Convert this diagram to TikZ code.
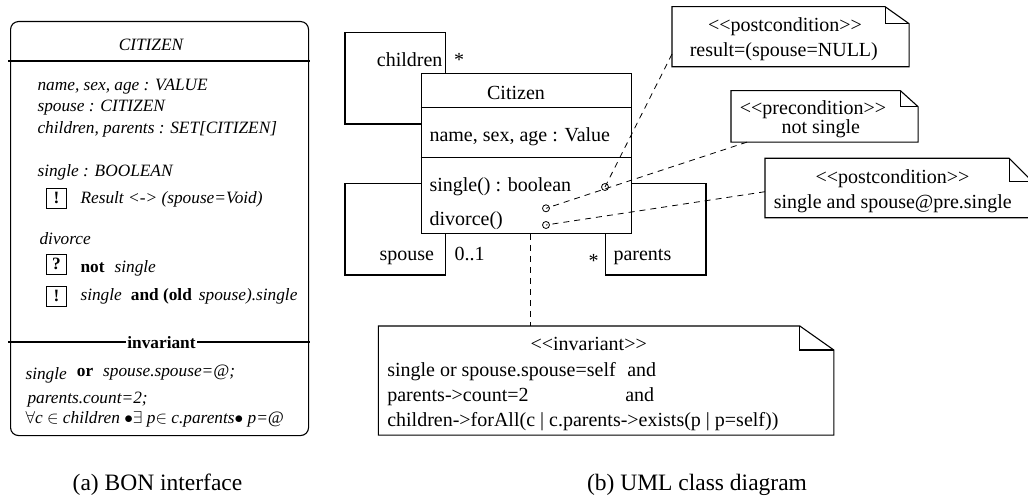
\documentclass[tikz,border=0pt]{standalone}
\usepackage{fontspec}
\setmainfont{Liberation Serif}
\usetikzlibrary{
    calc,
    positioning
}
\tikzset{
  every path/.style={
    black,
    line width=1.1pt
  },
  every node/.style={
    inner sep=0pt
  },
  uml/.style={font=\fontsize{20}{24}\selectfont},
  bon/.style={font=\fontsize{17.3}{21}\selectfont\itshape},
  caption/.style={font=\fontsize{23.5}{28}\selectfont, anchor=base},
  txt/.style={anchor=base west},
  ctr/.style={anchor=base},
  notebox/.style={anchor=north west},
  knob/.style={circle, draw, minimum size=7pt, line width=0.8pt},
  flag/.style={draw, minimum size=20pt, line width=0.9pt,
    font=\fontsize{17.3}{21}\selectfont\bfseries},
  dashline/.style={dash pattern=on 6pt off 5pt, line width=0.8pt}
}
\newcommand\notefold[3]{%
  \draw ($(#1.north east)+(-#2,0)$) -- (#1.north west) -- (#1.south west)
    -- (#1.south east) -- ($(#1.north east)+(0,#3)$) -- cycle;
  \draw ($(#1.north east)+(-#2,0)$) |- ($(#1.north east)+(0,#3)$);}
\newcommand\stereo[1]{<{}<#1>{}>}

\begin{document}
\begin{tikzpicture}[x=1pt, y=-1pt]
\useasboundingbox (0,0) rectangle (1028,497);
\node[draw, rounded corners=8pt, minimum width=298pt, minimum height=414pt, anchor=north west] (bon) at (10,21) {};
\draw (8,61) -- (310,61);
\draw (8,342) -- (310,342);
\node[bon, ctr] (bontitle) at (151,50.7) {CITIZEN};
\node[bon, txt] (attr1) at (37,90.7) {name, sex, age : VALUE};
\node[bon, txt] (attr2) at (37,111.7) {spouse : CITIZEN};
\node[bon, txt] (attr3) at (37,133.3) {children, parents : SET[CITIZEN]};
\node[bon, txt] (feat1) at (37,176.7) {single : BOOLEAN};
\node[flag] (ens1) at (56.5,198) {!};
\node[bon, txt] (ens1txt) at (80,203.3) {Result <-> (spouse=Void)};
\node[bon, txt] (feat2) at (39,244) {divorce};
\node[flag] (req2) at (56.5,264) {?};
\node[bon, txt] (req2txt) at (80,272.7) {\textup{\textbf{not}}\hspace{10pt}single};
\node[flag] (ens2) at (56.5,296) {!};
\node[bon, txt] (ens2txt) at (80,300.7) {single\hspace{9pt}\textup{\textbf{and (old}}\hspace{7pt}spouse).single};
\node[bon, ctr, fill=white, inner xsep=1pt, inner ysep=1pt] (invlabel) at (161.5,348.3) {\textup{\textbf{invariant}}};
\node[bon, txt] (inv1) at (25,376.3) {\raisebox{-3pt}{single}\hspace{10pt}\textup{\textbf{or}}\hspace{10pt}spouse.spouse=@;};
\node[bon, txt] (inv2) at (27,403.3) {parents.count=2;};
\node[bon, txt] (inv3) at (25,423.3) {$\forall$c $\in$ children $\bullet\exists$ p$\in$ c.parents$\bullet$ p=@};
\node[caption] (capa) at (157.5,490) {(a) BON interface};

\node[draw, minimum width=210pt, minimum height=159.4pt, anchor=north west] (cls) at (420.7,73.3) {};
\draw ($(cls.north west)+(0,34.4)$) -- ($(cls.north east)+(0,34.4)$);
\draw ($(cls.north west)+(0,84.4)$) -- ($(cls.north east)+(0,84.4)$);
\draw ($(cls.north west)+(0,50.7)$) -| (345,32.3) -| ($(cls.north west)+(25,0)$);
\draw ($(cls.north west)+(0,110)$) -| (345,275) -| ($(cls.south west)+(25,0)$);
\draw ($(cls.north east)+(0,110)$) -| (706,275) -| ($(cls.south west)+(185,0)$);
\node[uml, ctr] (clsname) at (516,99.3) {Citizen};
\node[uml, txt] (clsattr) at (429,141.7) {name, sex, age : Value};
\node[uml, txt] (op1) at (429,192) {single() : boolean};
\node[uml, txt] (op2) at (429,225.7) {divorce()};
\node[uml, anchor=base east] (rchildren) at (443,66.3) {children};
\node[uml, ctr] (mchildren) at (459,66.3) {*};
\node[uml, txt] (rspouse) at (379,260) {spouse};
\node[uml, txt] (mspouse) at (454,260) {0..1};
\node[uml, txt] (rparents) at (613,260) {parents};
\node[uml, ctr] (mparents) at (593.7,267) {*};
\node[knob] (k1) at (605,187) {};
\node[knob] (k2) at (546,208.3) {};
\node[knob] (k3) at (546,225) {};

\node[notebox, minimum width=236pt, minimum height=59pt] (posta) at (672,6.7) {};
\notefold{posta}{24}{17}
\node[uml, ctr] (postahead) at (785,31.7) {\stereo{postcondition}};
\node[uml, ctr] (postabody) at (783.8,57) {result=(spouse=NULL)};
\node[notebox, minimum width=186pt, minimum height=50.3pt] (pre) at (731,90.7) {};
\notefold{pre}{17.7}{16}
\node[uml, ctr] (prehead) at (813,115) {\stereo{precondition}};
\node[uml, ctr] (prebody) at (820.8,133.5) {not single};
\node[notebox, minimum width=266pt, minimum height=58.4pt] (postb) at (765,158.3) {};
\notefold{postb}{23}{23}
\node[uml, ctr] (postbhead) at (892.5,184) {\stereo{postcondition}};
\node[uml, txt] (postbbody) at (773.3,209) {single and spouse@pre.single};
\node[notebox, minimum width=454.4pt, minimum height=108pt] (inv) at (378.3,326) {};
\notefold{inv}{34}{24}
\node[uml, ctr] (invhead) at (588.7,350.7) {\stereo{invariant}};
\node[uml, txt] (invl1) at (386.7,376.7) {\makebox[240pt][l]{single or spouse.spouse=self}and};
\node[uml, txt] (invl2) at (386.7,401.7) {\makebox[238pt][l]{parents->count=2}and};
\node[uml, txt] (invl3) at (386.7,426.7) {children->forAll(c | c.parents->exists(p | p=self))};

\draw[dashline] ($(posta.south west)+(0,-12.7)$) -- (k1.center);
\draw[dashline] ($(pre.south west)+(16,0)$) -- (k2.center);
\draw[dashline] ($(postb.north west)+(0,33.4)$) -- (k3.center);
\draw[dashline] ($(cls.south west)+(109.3,0)$) -- ($(inv.north west)+(151.7,0)$);
\node[caption] (capb) at (697,490) {(b) UML class diagram};
\end{tikzpicture}
\end{document}
